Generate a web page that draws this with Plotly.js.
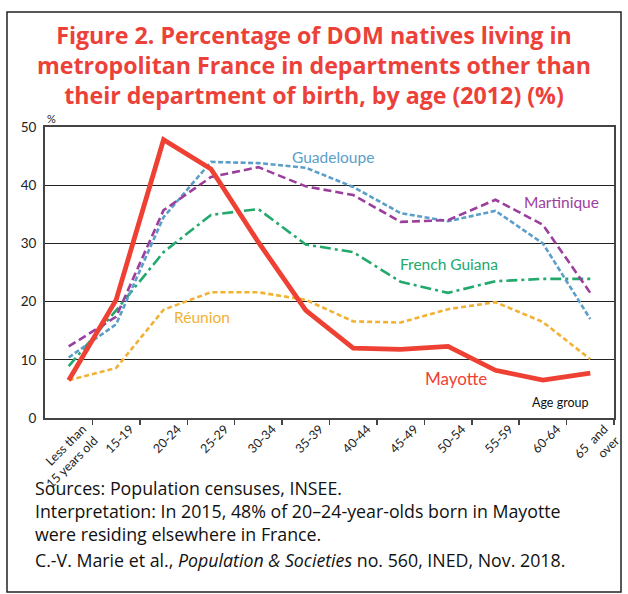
<!DOCTYPE html>
<html>
<head>
<meta charset="utf-8">
<script src="https://cdn.plot.ly/plotly-3.0.1.min.js"></script>
<style>html,body{margin:0;padding:0;background:#fff;}#chart{width:628px;height:594px;}</style>
</head>
<body>
<div id="chart"></div>
<script>
const ageGroups = ["Less than<br>15 years old","15-19","20-24","25-29","30-34","35-39","40-44","45-49","50-54","55-59","60-64","65  and<br>over"];
const guadeloupe   = [10.4, 16.1, 34.5, 44.0, 43.8, 43.0, 39.7, 35.2, 33.8, 35.6, 30.0, 17.0];
const martinique   = [12.3, 17.4, 35.7, 41.4, 43.1, 39.8, 38.3, 33.7, 34.0, 37.5, 33.2, 21.5];
const frenchGuiana = [8.9, 18.5, 28.5, 34.9, 35.9, 29.8, 28.5, 23.4, 21.5, 23.5, 23.9, 23.9];
const reunion      = [6.5, 8.6, 18.6, 21.6, 21.6, 20.3, 16.6, 16.4, 18.7, 19.9, 16.5, 10.1];
const mayotte      = [6.5, 20.3, 47.8, 42.8, 30.2, 18.5, 12.0, 11.8, 12.3, 8.2, 6.5, 7.7];
const yTicks = [0, 10, 20, 30, 40, 50];

const xIdx = ageGroups.map((_, i) => i);
function tr(name, y, color, width, dash) {
  return {type: "scatter", mode: "lines", name: name, x: xIdx, y: y,
          line: {color: color, width: width, dash: dash}, hoverinfo: "skip"};
}
const data = [
  tr("Réunion", reunion, "#f1b233", 2.6, "5px,3px"),
  tr("French Guiana", frenchGuiana, "#22a96c", 2.6, "11px,4px,3px,4px"),
  tr("Guadeloupe", guadeloupe, "#5a9ec9", 2.6, "5px,2.5px"),
  tr("Martinique", martinique, "#9c3e9d", 2.6, "8px,4px"),
  tr("Mayotte", mayotte, "#ee4134", 4.8, "solid")
];

// plot area in px: x 45..614, y 127..418
const L = 45, R = 614, T = 127, B = 418;
const px = v => (v - L) / (R - L);
const py = v => (B - v) / (B - T);

const txt = (text, x, y, color, size, extra) => Object.assign({
  text: text, xref: "paper", yref: "paper", x: px(x), y: py(y),
  showarrow: false, font: {family: "Lato, 'Open Sans', sans-serif", size: size, color: color},
  xanchor: "center", yanchor: "middle"
}, extra || {});
const note = (text, y) => txt(text, 33, y, "#111", 17.8,
  {xanchor: "left", align: "left", font: {family: "'Open Sans', sans-serif", size: 17.8, color: "#111"}});

const layout = {
  width: 628, height: 594,
  margin: {l: L, r: 628 - R, t: T, b: 594 - B},
  paper_bgcolor: "#ffffff", plot_bgcolor: "#ffffff",
  showlegend: false,
  title: {
    text: "Figure 2. Percentage of DOM natives living in<br>metropolitan France in departments other than<br>their department of birth, by age (2012) (%)",
    x: 0.5, xref: "container", xanchor: "center",
    y: 1 - 44 / 594, yref: "container", yanchor: "top",
    font: {family: "'Open Sans', sans-serif", size: 23.2, color: "#ec4139", weight: 700}
  },
  xaxis: {
    type: "linear", range: [-0.5, 11.5],
    tickmode: "array", tickvals: xIdx, ticktext: ageGroups,
    tickangle: -45, showgrid: false, zeroline: false,
    showline: true, linecolor: "#444", linewidth: 2, mirror: true,
    ticks: "", tickfont: {family: "Lato, sans-serif", size: 12.5, color: "#222"},
    ticklabelshift: 14, ticklabelstandoff: -3
  },
  xaxis2: {
    overlaying: "x", matches: "x", range: [-0.5, 11.5],
    tickmode: "array", tickvals: xIdx.map(i => i + 0.5), ticks: "outside", ticklen: 6,
    tickcolor: "#444", tickwidth: 1.5, showticklabels: false, showgrid: false, zeroline: false
  },
  yaxis: {
    range: [0, 50], tickmode: "array", tickvals: yTicks,
    showgrid: true, gridcolor: "#222", gridwidth: 1.2,
    showline: true, linecolor: "#444", linewidth: 2, mirror: true,
    zeroline: false, ticks: "", ticklabelstandoff: 4,
    tickfont: {family: "Lato, sans-serif", size: 13.5, color: "#222"}
  },
  shapes: [{
    type: "rect", xref: "paper", yref: "paper",
    x0: px(7), x1: px(621), y0: py(592), y1: py(12),
    line: {color: "#222", width: 1.5}, fillcolor: "rgba(0,0,0,0)", layer: "below"
  }],
  annotations: [
    txt("%", 51, 118, "#222", 11),
    txt("Guadeloupe", 333, 157, "#5a9ec9", 15.5),
    txt("Martinique", 561, 202, "#9c3e9d", 15.5),
    txt("French Guiana", 449, 264, "#22a96c", 15.5),
    txt("Réunion", 202, 317, "#f1b233", 15.5),
    txt("Mayotte", 456, 378, "#ee4134", 17),
    txt("Age group", 560, 402, "#111", 12.5),
    note("Sources: Population censuses, INSEE.<br>Interpretation: In 2015, 48% of 20–24-year-olds born in Mayotte<br>were residing elsewhere in France.", 511),
    note("C.-V. Marie et al., <i>Population &amp; Societies</i> no. 560, INED, Nov. 2018.", 560)
  ]
};
// invisible trace to activate the tick-mark axis
data.unshift({type: "scatter", x: [0], y: [0], xaxis: "x2", mode: "markers", marker: {opacity: 0}, hoverinfo: "skip"});

Plotly.newPlot("chart", data, layout, {staticPlot: true});
</script>
</body>
</html>
